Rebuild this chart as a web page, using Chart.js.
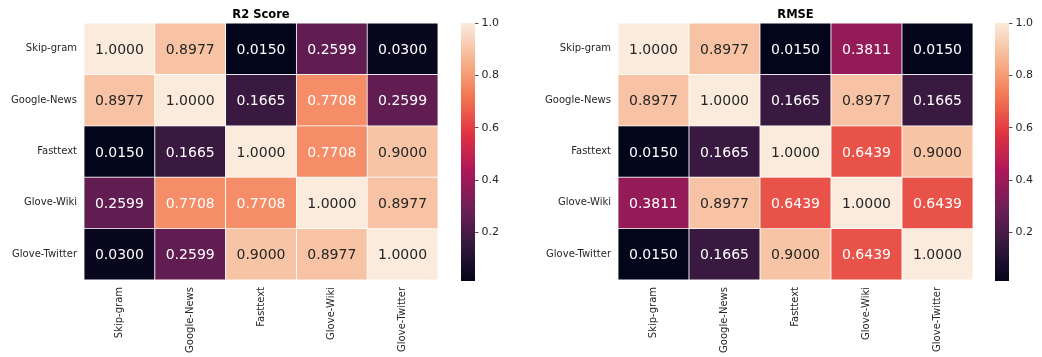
<!DOCTYPE html>
<html>
<head>
<meta charset="utf-8">
<script src="https://cdn.jsdelivr.net/npm/chart.js@4.4.1/dist/chart.umd.min.js"></script>
<style>
  html, body { margin: 0; padding: 0; background: #fff; }
  #wrap { position: relative; width: 1042px; height: 357px; overflow: hidden; }
  .box { position: absolute; top: 0; height: 357px; }
</style>
</head>
<body>
<div id="wrap">
  <div class="box" style="left:0;width:440px"><canvas id="r2"></canvas></div>
  <div class="box" style="left:455px;width:60px"><canvas id="r2bar"></canvas></div>
  <div class="box" style="left:520px;width:455px"><canvas id="rmse"></canvas></div>
  <div class="box" style="left:989px;width:53px"><canvas id="rmsebar"></canvas></div>
</div>
<script>
// Embedding models compared pairwise
const models = ['Skip-gram', 'Google-News', 'Fasttext', 'Glove-Wiki', 'Glove-Twitter'];

// R2 score matrix, one array per row
const r2SkipGram    = [1.0000, 0.8977, 0.0150, 0.2599, 0.0300];
const r2GoogleNews  = [0.8977, 1.0000, 0.1665, 0.7708, 0.2599];
const r2Fasttext    = [0.0150, 0.1665, 1.0000, 0.7708, 0.9000];
const r2GloveWiki   = [0.2599, 0.7708, 0.7708, 1.0000, 0.8977];
const r2GloveTwitter= [0.0300, 0.2599, 0.9000, 0.8977, 1.0000];

// RMSE matrix, one array per row
const rmseSkipGram    = [1.0000, 0.8977, 0.0150, 0.3811, 0.0150];
const rmseGoogleNews  = [0.8977, 1.0000, 0.1665, 0.8977, 0.1665];
const rmseFasttext    = [0.0150, 0.1665, 1.0000, 0.6439, 0.9000];
const rmseGloveWiki   = [0.3811, 0.8977, 0.6439, 1.0000, 0.6439];
const rmseGloveTwitter= [0.0150, 0.1665, 0.9000, 0.6439, 1.0000];

// Colour scale limits and colorbar ticks
const colorMin = 0.015;
const colorMax = 1.0;
const colorbarTicks = [0.2, 0.4, 0.6, 0.8, 1.0];

const r2Rows = [r2SkipGram, r2GoogleNews, r2Fasttext, r2GloveWiki, r2GloveTwitter];
const rmseRows = [rmseSkipGram, rmseGoogleNews, rmseFasttext, rmseGloveWiki, rmseGloveTwitter];

const FONT = "'DejaVu Sans', sans-serif";
const INK = '#262626';

// "rocket" colormap control points
const rocketStops = [
  [0 / 7, [3, 5, 26]],
  [1 / 7, [53, 25, 62]],
  [2 / 7, [112, 31, 87]],
  [3 / 7, [173, 23, 89]],
  [4 / 7, [225, 51, 66]],
  [5 / 7, [243, 118, 81]],
  [6 / 7, [246, 180, 143]],
  [7 / 7, [250, 235, 221]]
];

function rocketRGB(t) {
  t = Math.max(0, Math.min(1, t));
  for (let i = 1; i < rocketStops.length; i++) {
    const [t1, c1] = rocketStops[i];
    const [t0, c0] = rocketStops[i - 1];
    if (t <= t1) {
      const f = (t - t0) / (t1 - t0);
      return c0.map((c, k) => c + f * (c1[k] - c));
    }
  }
  return rocketStops[rocketStops.length - 1][1];
}
function rgbStr(c) { return `rgb(${c.map(v => Math.round(v)).join(',')})`; }
function colorFor(v) { return rgbStr(rocketRGB((v - colorMin) / (colorMax - colorMin))); }

// Dark text on light cells, white text on dark cells
function textColorFor(v) {
  const c = rocketRGB((v - colorMin) / (colorMax - colorMin)).map(x => x / 255)
    .map(x => x <= 0.03928 ? x / 12.92 : Math.pow((x + 0.055) / 1.055, 2.4));
  const lum = 0.2126 * c[0] + 0.7152 * c[1] + 0.0722 * c[2];
  return lum > 0.408 ? INK : '#ffffff';
}

// Writes each cell's value at its centre, plus a bold title above the grid
const cellText = {
  id: 'cellText',
  afterDatasetsDraw(chart, args, opts) {
    const ctx = chart.ctx;
    const xs = chart.scales.x, ys = chart.scales.y;
    ctx.save();
    ctx.font = `14px ${FONT}`;
    ctx.textAlign = 'center';
    ctx.textBaseline = 'alphabetic';
    opts.rows.forEach((row, i) => {
      row.forEach((v, j) => {
        ctx.fillStyle = textColorFor(v);
        const cx = xs.getPixelForValue(j);
        const cy = ys.getPixelForValue(i + 0.5);
        ctx.fillText(v.toFixed(4), cx, cy + 5.1);
      });
    });
    const a = chart.chartArea;
    ctx.font = `bold 11.5px ${FONT}`;
    ctx.fillStyle = '#000';
    ctx.fillText(opts.title, (a.left + a.right) / 2, 18.3);
    ctx.restore();
  }
};

function heatmap(id, rows, title, yAxisWidth) {
  const datasets = rows.map((row, i) => ({
    label: models[i],
    data: row.map(() => [i, i + 1]),
    backgroundColor: row.map(colorFor),
    borderColor: '#ffffff',
    borderWidth: 0.75,
    borderSkipped: false,
    grouped: false,
    barPercentage: 1,
    categoryPercentage: 1
  }));
  return new Chart(document.getElementById(id), {
    type: 'bar',
    data: { labels: models, datasets },
    plugins: [cellText],
    options: {
      responsive: true,
      maintainAspectRatio: false,
      animation: false,
      events: [],
      layout: { padding: { top: 23, right: 2, left: 0, bottom: 0 } },
      plugins: {
        legend: { display: false },
        tooltip: { enabled: false },
        cellText: { rows, title }
      },
      scales: {
        x: {
          grid: { display: false, drawTicks: false },
          border: { display: false },
          ticks: {
            minRotation: 90, maxRotation: 90, padding: 7, autoSkip: false,
            color: INK, font: { family: FONT, size: 10 }
          },
          afterFit(s) { s.height = 77; }
        },
        y: {
          min: 0, max: rows.length, reverse: true,
          grid: { display: false, drawTicks: false },
          border: { display: false },
          afterBuildTicks(s) { s.ticks = rows.map((_, i) => ({ value: i + 0.5 })); },
          ticks: {
            padding: 7, color: INK, font: { family: FONT, size: 10 },
            callback: v => models[Math.floor(v)]
          },
          afterFit(s) { s.width = yAxisWidth; }
        }
      }
    }
  });
}

function colorbar(id, axisWidth) {
  return new Chart(document.getElementById(id), {
    type: 'bar',
    data: {
      labels: [''],
      datasets: [{
        data: [[colorMin, colorMax]],
        barPercentage: 1,
        categoryPercentage: 1,
        borderWidth: 0,
        backgroundColor(c) {
          const area = c.chart.chartArea;
          if (!area) return colorFor(colorMax);
          const g = c.chart.ctx.createLinearGradient(0, area.bottom, 0, area.top);
          const n = 60;
          for (let k = 0; k <= n; k++) g.addColorStop(k / n, rgbStr(rocketRGB(k / n)));
          return g;
        }
      }]
    },
    options: {
      responsive: true,
      maintainAspectRatio: false,
      animation: false,
      events: [],
      layout: { padding: { top: 23, left: 6, right: 0, bottom: 76 } },
      plugins: { legend: { display: false }, tooltip: { enabled: false } },
      scales: {
        x: { display: false },
        y: {
          position: 'right',
          min: colorMin, max: colorMax,
          grid: { drawOnChartArea: false, drawTicks: true, tickLength: 3.5, tickColor: INK, tickWidth: 0.8 },
          border: { display: false },
          afterBuildTicks(s) { s.ticks = colorbarTicks.map(v => ({ value: v })); },
          ticks: {
            padding: 3, color: INK, font: { family: FONT, size: 11 },
            callback: v => v.toFixed(1)
          },
          afterFit(s) { s.width = axisWidth; }
        }
      }
    }
  });
}

heatmap('r2', r2Rows, 'R2 Score', 84);
colorbar('r2bar', 40);
heatmap('rmse', rmseRows, 'RMSE', 98);
colorbar('rmsebar', 33);
</script>
</body>
</html>
